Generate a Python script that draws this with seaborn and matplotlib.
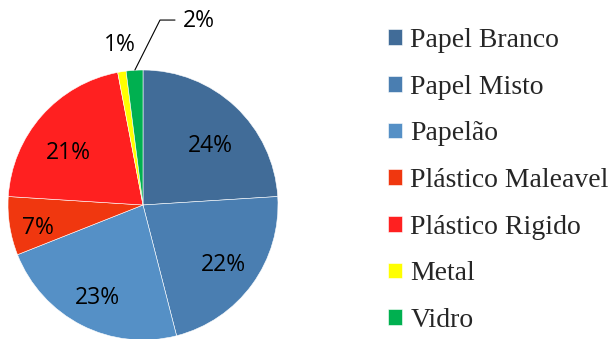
import matplotlib
matplotlib.use("Agg")
import matplotlib.pyplot as plt
import seaborn as sns

# data
categories = ['Papel Branco', 'Papel Misto', 'Papelão', 'Plástico Maleavel',
              'Plástico Rigido', 'Metal', 'Vidro']
shares = [24, 22, 23, 7, 21, 1, 2]
colors = ['#416C98', '#4A7EB1', '#5590C6', '#F0370F', '#FF2020', '#FFFF00', '#00B050']

# where each percentage label sits (pie units, radius = 1)
label_pos = [(0.496, 0.459), (0.593, -0.422), (-0.341, -0.667), (-0.778, -0.148),
             (-0.556, 0.407), (-0.170, 1.207), (0.296, 1.385)]

sns.set_theme(style="white")

fig = plt.figure(figsize=(6.12, 3.39), dpi=100)
ax = fig.add_axes([8 / 612, -1 / 339, 270 / 612, 270 / 339])

wedges, texts, autotexts = ax.pie(
    shares,
    colors=colors,
    startangle=90,
    counterclock=False,
    autopct='%1.0f%%',
    wedgeprops=dict(edgecolor='white', linewidth=0.4),
    textprops=dict(fontsize=16.5, family='Open Sans', color='black'),
)
ax.set_xlim(-1, 1)
ax.set_ylim(-1, 1)

for t, pos in zip(autotexts, label_pos):
    t.set_position(pos)
    t.set_va('center_baseline')
    t.set_clip_on(False)
autotexts[6].set_ha('left')

# leader line for the Vidro label
ax.plot([-0.06, 0.126, 0.237], [1.0, 1.37, 1.37], color='black', lw=0.8,
        clip_on=False)

leg = fig.legend(
    wedges, categories,
    loc='upper left',
    bbox_to_anchor=(388 / 612, 1 - 28 / 339),
    frameon=False,
    prop=dict(family='Liberation Serif', size=20),
    handlelength=0.5,
    handleheight=0.5,
    handletextpad=0.3,
    labelspacing=0.78,
    borderaxespad=0,
    borderpad=0,
)

fig.savefig('out.png', dpi=100)
